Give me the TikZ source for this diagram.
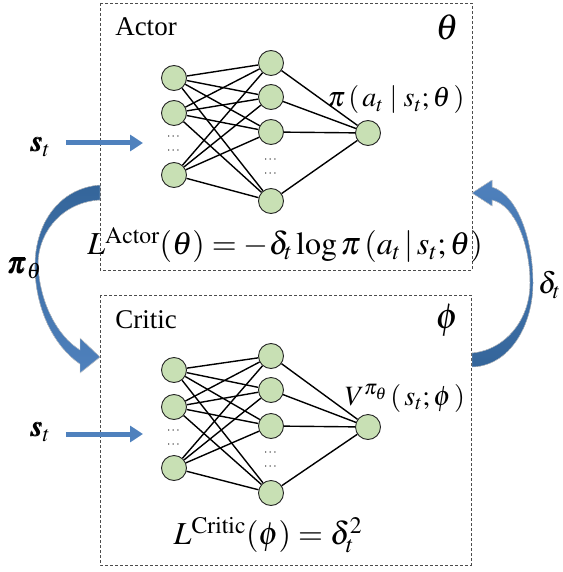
\documentclass[tikz,border=0pt]{standalone}
\usepackage{amsmath}
\usepackage{mathptmx}
\usepackage{bm}
\usepackage{fontspec}
\setmainfont{Liberation Serif}
\usetikzlibrary{arrows.meta}
\definecolor{cellgreen}{HTML}{C8E0B4}
\definecolor{flowblue}{HTML}{4F81BD}
\definecolor{flowdark}{HTML}{34659A}

\begin{document}
\begin{tikzpicture}[x=1pt, y=-1pt,
    neuron/.style={circle, draw=black!85, fill=cellgreen, line width=0.9pt, minimum size=25pt, inner sep=0pt},
    link/.style={line width=1.4pt},
    netbox/.style={draw=black!70, line width=0.9pt, dash pattern=on 3pt off 2pt},
    dotcol/.style={font=\fontsize{12}{14}\selectfont, align=center, inner sep=0pt},
    title/.style={font=\fontsize{27}{30}\selectfont},
    feed/.style={draw=flowblue, line width=5pt, -{Triangle[length=13pt, width=16pt]}},
    band/.style={draw=black!15, line width=0.4pt}]
    \useasboundingbox (0,0) rectangle (562,572);
    \draw[netbox] (100,3) rectangle (472,270);
    \draw[netbox] (100,295) rectangle (471,565);
    \node[title] (actor) at (146,27) {Actor};
    \node[font=\fontsize{36}{40}\selectfont] (theta) at (447,27) {$\theta$};
    \node[title] (critic) at (146,320) {Critic};
    \node[font=\fontsize{36}{40}\selectfont] (phi) at (447,320) {$\phi$};
    \foreach \n/\y in {1/78, 2/113, 3/175}
      \node[neuron] (ai-\n) at (174,\y) {};
    \foreach \n/\y in {1/63, 2/97, 3/132, 4/201}
      \node[neuron] (ah-\n) at (271,\y) {};
    \node[neuron] (ao) at (368,133) {};
    \foreach \n/\y in {1/370, 2/407, 3/468}
      \node[neuron] (ci-\n) at (174,\y) {};
    \foreach \n/\y in {1/356, 2/390, 3/426, 4/493}
      \node[neuron] (ch-\n) at (271,\y) {};
    \node[neuron] (co) at (368,427) {};
    \foreach \i in {1,2,3}
      \foreach \j in {1,...,4} {
        \draw[link] (ai-\i) -- (ah-\j);
        \draw[link] (ci-\i) -- (ch-\j);
      }
    \foreach \j in {1,...,4} {
      \draw[link] (ah-\j) -- (ao);
      \draw[link] (ch-\j) -- (co);
    }
    \node[dotcol] (ad-in) at (174,144) {$\cdots$\\$\cdots$};
    \node[dotcol] (ad-hid) at (271,167) {$\cdots$\\$\cdots$};
    \node[dotcol] (cd-in) at (174,438) {$\cdots$\\$\cdots$};
    \node[dotcol] (cd-hid) at (271,460) {$\cdots$\\$\cdots$};
    \node[font=\fontsize{28}{32}\selectfont] (policy) at (396,100)
      {$\pi\left(\,a_t\;|\;s_t;\theta\,\right)$};
    \node[font=\fontsize{28}{32}\selectfont] (value) at (405,398)
      {$V^{\pi_\theta}\left(\,s_t;\phi\,\right)$};
    \node[font=\fontsize{32}{36}\selectfont] (actorloss) at (285,245)
      {$L^{\mathrm{Actor}}(\theta)=-\delta_t\log\pi\left(a_t\,|\,s_t;\theta\right)$};
    \node[font=\fontsize{32}{36}\selectfont] (criticloss) at (268,535)
      {$L^{\mathrm{Critic}}(\phi)=\delta_t^2$};
    \node[font=\fontsize{30}{34}\selectfont] (sa) at (40,147) {$\bm{s}_t$};
    \node[font=\fontsize{30}{34}\selectfont] (sc) at (40,432) {$\bm{s}_t$};
    \coordinate (sa-end) at (143,143);
    \coordinate (sc-end) at (143,434);
    \draw[feed] (sa.east |- sa-end) ++(12,0) -- (sa-end);
    \draw[feed] (sc.east |- sc-end) ++(12,0) -- (sc-end);
    \fill[band, top color=flowdark, bottom color=flowblue]
      (100,185) .. controls (60,188) and (36,222) .. (35,263)
      .. controls (34,305) and (52,345) .. (80,364) -- (80,373) -- (100,357)
      -- (80,338) -- (80,350) .. controls (56,335) and (39,300) .. (38,263)
      .. controls (39,230) and (64,202) .. (100,200) -- cycle;
    \fill[band, top color=flowblue, bottom color=flowdark]
      (472,193) -- (492,180) -- (492,187) .. controls (518,195) and (533,240) .. (533,283)
      .. controls (533,325) and (510,366) .. (472,367) -- (472,353)
      .. controls (505,350) and (530,320) .. (530,283)
      .. controls (530,245) and (515,205) .. (492,200) -- (492,206) -- cycle;
    \node[font=\fontsize{30}{34}\selectfont] (pol) at (24,268) {$\bm{\pi}_\theta$};
    \node[font=\fontsize{30}{34}\selectfont, anchor=west, inner sep=1pt] (td) at (537,285) {$\delta_t$};
  \end{tikzpicture}
\end{document}
